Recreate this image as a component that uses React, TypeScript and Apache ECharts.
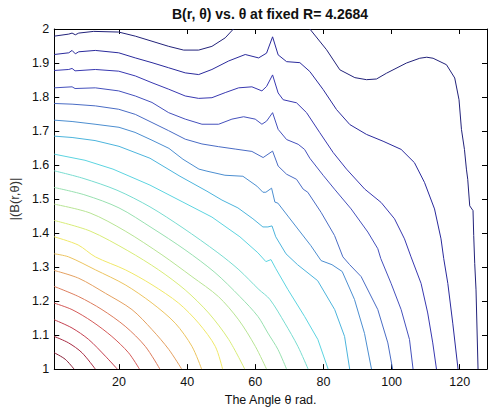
import React, { useEffect, useRef } from "react";
import * as echarts from "echarts";

type Pt = [number, number];

// Axis ticks
const thetaTicks = [20, 40, 60, 80, 100, 120];
const thetaMin = 1;
const thetaMax = 128;
const bMin = 1;
const bMax = 2;
const bStep = 0.1;

const chartTitle = "B(r, θ) vs. θ at fixed R= 4.2684";
const xTitle = "The Angle θ rad.";
const yTitle = "|(B(r,θ)|";

// Contour lines of |B| over (θ, r), lowest level first.
// Level 0 is split into two pieces (it leaves through the top edge).
const contour00a: Pt[] = [[1,1.979],[5.25,1.985],[6.22,1.988],[7.18,1.983],[8.18,1.988],[12.58,1.993],[19.91,1.991],[24.78,1.979],[29.68,1.964],[34.57,1.949],[38.97,1.938],[43.37,1.938],[47.27,1.949],[51.17,1.974],[53.58,2.0]];
const contour00b: Pt[] = [[76.01,2.0],[80.91,1.939],[84.81,1.88],[89.21,1.857],[92.64,1.851],[95.57,1.853],[98.5,1.87],[104.37,1.9],[108.27,1.914],[110.32,1.917],[112.17,1.914],[116.1,1.895],[118.53,1.856],[119.79,1.792],[120.5,1.705],[121.38,1.646],[121.96,1.588],[122.35,1.558],[122.93,1.48],[123.9,1.466],[124.1,1.393],[124.4,1.31],[124.78,1.233],[125.37,1.0]];
const contour01: Pt[] = [[1,1.925],[5.25,1.93],[6.22,1.937],[7.18,1.927],[8.18,1.933],[13.05,1.937],[19.91,1.93],[24.78,1.915],[29.68,1.901],[34.57,1.886],[39.44,1.871],[43.37,1.866],[47.27,1.881],[52.17,1.906],[57.04,1.925],[60.97,1.915],[63.3,1.929],[65.07,1.977],[66.7,1.924],[69.18,1.904],[73.08,1.901],[76.0,1.875],[79.91,1.822],[83.84,1.763],[87.74,1.719],[92.64,1.69],[97.5,1.67],[102.8,1.646],[106.7,1.607],[109.65,1.549],[112.6,1.471],[114.5,1.383],[115.3,1.325],[116.5,1.252],[117.95,1.135],[119.5,1.0]];
const contour02: Pt[] = [[1,1.878],[5.25,1.881],[6.22,1.884],[7.1,1.877],[13.05,1.881],[19.91,1.876],[24.78,1.862],[29.68,1.842],[34.57,1.823],[39.44,1.803],[43.37,1.796],[47.27,1.798],[51.17,1.813],[55.1,1.827],[59.0,1.83],[61.94,1.818],[63.3,1.831],[65.07,1.865],[66.7,1.812],[68.18,1.792],[72.1,1.783],[75.04,1.754],[78.94,1.695],[82.84,1.637],[86.77,1.588],[92.14,1.529],[96.92,1.49],[100.85,1.442],[103.78,1.383],[105.7,1.33],[108.65,1.252],[110.6,1.165],[112.08,1.077],[113.17,1.0]];
const contour03: Pt[] = [[1,1.827],[6.22,1.83],[7.1,1.825],[13.05,1.827],[19.91,1.818],[24.78,1.803],[29.68,1.784],[34.57,1.754],[39.44,1.735],[44.34,1.72],[49.24,1.72],[53.14,1.735],[56.57,1.742],[59.97,1.735],[61.94,1.72],[63.3,1.729],[65.07,1.754],[66.7,1.705],[69.18,1.675],[72.58,1.661],[74.46,1.646],[76.0,1.62],[79.9,1.57],[83.25,1.529],[88.12,1.471],[93.02,1.403],[95.95,1.354],[96.83,1.325],[99.85,1.252],[102.8,1.175],[105.25,1.087],[106.3,1.0]];
const contour04: Pt[] = [[1,1.781],[6.22,1.779],[13.05,1.774],[19.91,1.764],[24.78,1.749],[29.68,1.725],[34.57,1.701],[39.44,1.676],[44.34,1.662],[49.24,1.654],[54.1,1.647],[59.0,1.64],[62.3,1.622],[65.07,1.641],[66.7,1.597],[69.18,1.573],[72.1,1.558],[74.05,1.529],[75.4,1.52],[79.3,1.461],[83.25,1.393],[85.7,1.33],[87.7,1.307],[91.06,1.272],[95.95,1.175],[98.9,1.077],[100.3,1.0]];
const contour05: Pt[] = [[1,1.732],[6.22,1.728],[12.96,1.72],[20.0,1.711],[24.7,1.696],[29.68,1.673],[34.66,1.649],[38.77,1.617],[43.46,1.588],[45.81,1.582],[51.08,1.57],[56.36,1.567],[60.47,1.538],[62.23,1.52],[63.1,1.52],[64.78,1.532],[65.75,1.491],[66.63,1.488],[69.56,1.45],[72.5,1.412],[76.3,1.363],[79.3,1.319],[82.5,1.307],[85.5,1.287],[89.1,1.205],[92.05,1.105],[94.1,1.0]];
const contour06: Pt[] = [[1,1.685],[6.22,1.681],[12.96,1.672],[20.0,1.655],[29.09,1.62],[37.89,1.567],[45.81,1.523],[50.21,1.497],[54.9,1.474],[59.3,1.442],[62.23,1.418],[63.7,1.418],[64.9,1.421],[66.0,1.389],[69.0,1.339],[72.4,1.307],[78.3,1.26],[83.3,1.175],[86.2,1.096],[87.7,1.0]];
const contour07: Pt[] = [[1,1.632],[10.02,1.614],[18.23,1.588],[29.09,1.541],[38.77,1.491],[47.27,1.447],[55.48,1.389],[60.76,1.342],[63.11,1.316],[64.6,1.322],[66.04,1.295],[69.56,1.234],[74.45,1.155],[78.36,1.087],[81.38,1.0]];
const contour08: Pt[] = [[1,1.583],[9.44,1.561],[19.41,1.526],[29.09,1.477],[38.77,1.415],[49.03,1.342],[55.19,1.292],[61.06,1.234],[64.28,1.205],[68.68,1.135],[72.49,1.067],[75.5,1.0]];
const contour09: Pt[] = [[1,1.534],[10.02,1.512],[19.99,1.474],[29.68,1.415],[39.35,1.351],[48.15,1.284],[55.5,1.213],[60.76,1.155],[63.7,1.106],[66.63,1.058],[69.18,1.0]];
const contour10: Pt[] = [[1,1.485],[11.5,1.459],[21.8,1.406],[32.6,1.336],[41.4,1.272],[49.2,1.213],[55.1,1.145],[60.0,1.067],[63.3,1.0]];
const contour11: Pt[] = [[1,1.437],[11.5,1.406],[22.6,1.348],[31.6,1.292],[39.4,1.233],[46.3,1.165],[52.2,1.087],[56.9,1.0]];
const contour12: Pt[] = [[1,1.389],[8.0,1.365],[13.05,1.33],[21.85,1.292],[29.68,1.248],[37.5,1.194],[43.37,1.135],[48.24,1.067],[50.4,1.0]];
const contour13: Pt[] = [[1,1.339],[5.2,1.33],[13.05,1.292],[21.8,1.248],[29.7,1.194],[36.5,1.135],[41.4,1.067],[44.25,1.0]];
const contour14: Pt[] = [[1,1.29],[8.2,1.267],[16.0,1.223],[23.8,1.175],[29.7,1.116],[34.6,1.058],[38.4,1.0]];
const contour15: Pt[] = [[1,1.243],[8.2,1.213],[15.0,1.175],[21.8,1.126],[27.7,1.067],[32.0,1.0]];
const contour16: Pt[] = [[1,1.194],[6.2,1.175],[12.1,1.14],[17.9,1.096],[22.8,1.048],[26.0,1.0]];
const contour17: Pt[] = [[1,1.145],[6.2,1.121],[11.1,1.087],[16.0,1.038],[19.5,1.0]];
const contour18: Pt[] = [[1,1.096],[5.2,1.077],[9.15,1.048],[13.05,1.0]];
const contour19: Pt[] = [[1,1.048],[4.2,1.029],[6.8,1.0]];

const contourLines: { level: number; pts: Pt[] }[] = [
  { level: 0, pts: contour00a },
  { level: 0, pts: contour00b },
  { level: 1, pts: contour01 },
  { level: 2, pts: contour02 },
  { level: 3, pts: contour03 },
  { level: 4, pts: contour04 },
  { level: 5, pts: contour05 },
  { level: 6, pts: contour06 },
  { level: 7, pts: contour07 },
  { level: 8, pts: contour08 },
  { level: 9, pts: contour09 },
  { level: 10, pts: contour10 },
  { level: 11, pts: contour11 },
  { level: 12, pts: contour12 },
  { level: 13, pts: contour13 },
  { level: 14, pts: contour14 },
  { level: 15, pts: contour15 },
  { level: 16, pts: contour16 },
  { level: 17, pts: contour17 },
  { level: 18, pts: contour18 },
  { level: 19, pts: contour19 },
];

// Jet-like palette, low (navy) to high (dark red)
const levelColors = [
  "#22227a", "#2a2a9c", "#3838b0", "#4450bc", "#4a6cc4",
  "#4c8ed0", "#4cb4dc", "#5cd4e0", "#78dcd0", "#98e0b0",
  "#b8e494", "#d8ec78", "#f0e868", "#ecc460", "#e4a060",
  "#dc7c5c", "#d45a58", "#c44050", "#a82c44", "#882038",
];

const FONT = '"Liberation Sans", Arial, Helvetica, sans-serif';

export default function App() {
  const ref = useRef<HTMLDivElement>(null);

  useEffect(() => {
    document.body.style.margin = "0";
    if (!ref.current) return;
    const chart = echarts.init(ref.current, undefined, { renderer: "svg" });

    // the smooth, arc-like high levels get a little curve smoothing
    const series = contourLines.map(({ level, pts }) => ({
      type: "line",
      data: pts,
      showSymbol: false,
      symbol: "none",
      smooth: level >= 8 ? 0.3 : false,
      silent: true,
      clip: true,
      lineStyle: { width: 1, color: levelColors[level] },
    }));

    const axisLine = { show: true, onZero: false, lineStyle: { color: "#000", width: 1 } };
    const tickStyle = { color: "#000", width: 1 };

    chart.setOption({
      animation: false,
      backgroundColor: "#fff",
      textStyle: { fontFamily: FONT },
      grid: { left: 54, right: 1, top: 29, bottom: 40, containLabel: false },
      xAxis: [
        {
          type: "value",
          min: thetaMin,
          max: thetaMax,
          position: "bottom",
          axisLine,
          axisTick: { show: true, inside: true, length: 5, customValues: thetaTicks, lineStyle: tickStyle },
          axisLabel: { show: true, customValues: thetaTicks, margin: 6, color: "#111", fontSize: 12.5, fontFamily: FONT },
          splitLine: { show: false },
          name: xTitle,
          nameLocation: "middle",
          nameGap: 23,
          nameTextStyle: { color: "#111", fontSize: 12.5, fontFamily: FONT },
        },
        {
          type: "value",
          min: thetaMin,
          max: thetaMax,
          position: "top",
          axisLine,
          axisTick: { show: true, inside: true, length: 5, customValues: thetaTicks, lineStyle: tickStyle },
          axisLabel: { show: false },
          splitLine: { show: false },
        },
      ],
      yAxis: [
        {
          type: "value",
          min: bMin,
          max: bMax,
          interval: bStep,
          position: "left",
          axisLine,
          axisTick: { show: true, inside: true, length: 5, lineStyle: tickStyle },
          axisLabel: {
            show: true,
            margin: 5,
            color: "#111",
            fontSize: 12.5,
            fontFamily: FONT,
            showMinLabel: true,
            showMaxLabel: true,
            formatter: (v: number) => String(Math.round(v * 10) / 10),
          },
          splitLine: { show: false },
          name: yTitle,
          nameLocation: "middle",
          nameGap: 31,
          nameTextStyle: { color: "#333", fontSize: 13, fontFamily: FONT },
        },
        {
          type: "value",
          min: bMin,
          max: bMax,
          interval: bStep,
          position: "right",
          axisLine,
          axisTick: { show: true, inside: true, length: 5, lineStyle: tickStyle },
          axisLabel: { show: false },
          splitLine: { show: false },
        },
      ],
      graphic: [
        {
          type: "text",
          x: 270,
          y: 14,
          style: {
            text: chartTitle,
            fill: "#111",
            font: `bold 14px ${FONT}`,
            align: "center",
            verticalAlign: "middle",
          },
        },
      ],
      series,
    });

    return () => chart.dispose();
  }, []);

  return <div ref={ref} style={{ width: 488, height: 411 }} />;
}
